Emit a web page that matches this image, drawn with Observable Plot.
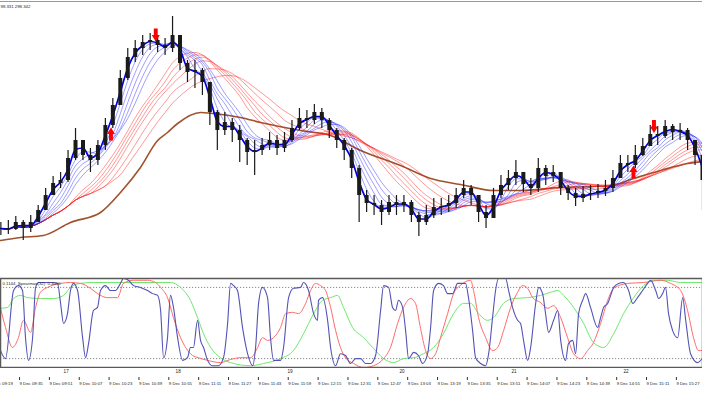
<!DOCTYPE html>
<html><head><meta charset="utf-8">
<script src="https://cdn.jsdelivr.net/npm/d3@7"></script>
<script src="https://cdn.jsdelivr.net/npm/@observablehq/plot@0.6"></script>
<style>
html,body{margin:0;padding:0;background:#fff;}
#chart{position:relative;width:702px;height:395px;overflow:hidden;font-family:"Liberation Sans",Arial,sans-serif;background:#fff;}
#main{position:absolute;left:0;top:1px;width:702px;border-top:1px solid #9a9a9a;}
#osc{position:absolute;left:0;top:274px;width:702px;}
#axis{position:absolute;left:0;top:368px;width:702px;}
#chart svg{display:block;}
</style></head><body>
<div id="chart"><div id="main"></div><div id="osc"></div><div id="axis"></div></div>
<script>
// ---- time settings (minutes after 09:00) ----
const leftEdgeMin = 24.8;          // 09:24:48, left edge of the window
const rightEdgeMin = 401;          // 15:41, right edge
const barStartMin = 25;            // first 4-minute bar at 09:25
const barStepMin = 4;

// ---- price bars (4-minute aggregation) ----
const closes = [297.72,297.71,297.78,297.72,297.78,297.90,298.05,298.17,298.20,298.42,
 298.60,298.45,298.40,298.55,298.75,298.95,299.22,299.43,299.52,299.58,
 299.60,299.55,299.52,299.65,299.37,299.28,299.30,299.18,298.88,298.70,
 298.78,298.70,298.60,298.48,298.50,298.55,298.60,298.52,298.60,298.72,
 298.82,298.80,298.88,298.80,298.70,298.60,298.50,298.32,298.05,297.97,
 297.95,297.88,297.98,297.95,297.98,297.85,297.78,297.85,297.93,297.94,
 297.97,298.05,298.12,298.05,297.88,297.82,298.05,298.15,298.22,298.28,
 298.16,298.12,298.32,298.24,298.28,298.12,298.07,298.02,298.06,298.07,
 298.09,298.12,298.22,298.37,298.35,298.45,298.54,298.66,298.64,298.74,
 298.68,298.70,298.60,298.45,298.20];
const highs = [297.78,297.80,297.84,297.80,297.85,297.95,298.12,298.24,298.28,298.50,
 298.72,298.60,298.52,298.60,298.82,299.02,299.30,299.52,299.60,299.65,
 299.67,299.64,299.62,299.84,299.65,299.40,299.40,299.32,299.18,298.90,
 298.88,298.82,298.75,298.62,298.60,298.62,298.68,298.65,298.68,298.80,
 298.92,298.90,298.96,298.92,298.82,298.72,298.62,298.52,298.35,298.10,
 298.05,298.00,298.05,298.05,298.05,298.00,297.88,297.95,298.02,298.02,
 298.05,298.12,298.20,298.15,298.05,297.95,298.12,298.25,298.30,298.40,
 298.28,298.22,298.42,298.35,298.35,298.28,298.15,298.12,298.14,298.15,
 298.16,298.20,298.30,298.45,298.45,298.55,298.62,298.75,298.74,298.80,
 298.76,298.77,298.72,298.58,298.45];
const lows = [297.65,297.66,297.70,297.60,297.68,297.80,297.92,298.05,298.12,298.18,
 298.40,298.40,298.28,298.35,298.50,298.72,298.95,299.20,299.38,299.45,
 299.50,299.48,299.45,299.48,299.30,299.18,299.12,299.05,298.75,298.50,
 298.65,298.58,298.38,298.35,298.25,298.45,298.50,298.45,298.48,298.58,
 298.70,298.72,298.76,298.72,298.62,298.52,298.40,298.22,297.78,297.88,
 297.85,297.75,297.85,297.85,297.88,297.78,297.64,297.75,297.82,297.85,
 297.88,297.92,298.02,297.95,297.78,297.72,297.85,298.02,298.10,298.15,
 298.08,298.05,298.08,298.15,298.18,298.05,298.00,297.94,297.98,298.00,
 298.02,298.04,298.08,298.22,298.28,298.32,298.44,298.55,298.55,298.62,
 298.60,298.60,298.50,298.35,297.90];

// ---- moving average periods (in bars) ----
const fastK = 2;
const blueK = [3, 4, 5, 6, 7];
const redK = [10, 11, 12, 13, 15, 17];

// ---- long moving average (brown): minutes after left edge, price ----
const brownMin = [0,10.7,23,37.5,53.6,64.3,75,84.2,89.5,94.9,107.2,114.2,128.6,139.4,160.8,176.9,193,214.4,230.5,246.6,264.2,278.7,300.2,317.8,327,339.3,353.8,368.2,376.3];
const brownVal = [297.60,297.63,297.65,297.78,297.88,298.08,298.33,298.60,298.68,298.77,298.88,298.87,298.83,298.78,298.70,298.65,298.50,298.35,298.22,298.16,298.10,298.10,298.13,298.14,298.15,298.22,298.30,298.37,298.39];

// ---- signal arrows ----
const arrowTimes = ["10:48", "10:24", "15:15", "15:04"];
const arrowPrices = [299.655, 298.665, 298.74, 298.285];
const arrowDirs = ["down", "up", "down", "up"];

// ---- oscillator (Spearman) series: [minutes after left edge, value] ----
const oscBlue = [[0,-0.62],[2.7,-0.80],[7.0,0.73],[9.6,0.84],[11.8,0.73],[13.4,-0.33],[15.0,-0.84],[17.2,-0.33],[18.8,0.80],[20.4,0.91],[27.9,0.91],[30.6,0.89],[32.2,0.44],[33.8,-0.01],[35.9,0.21],[37.5,0.73],[39.1,0.89],[41.3,0.73],[44.0,-0.33],[45.6,-0.78],[47.2,-0.46],[49.8,0.28],[52.0,0.35],[53.6,0.73],[56.3,0.84],[59.0,0.73],[61.6,0.73],[64.3,0.89],[65.9,1.00],[68.6,0.96],[71.3,0.84],[75.0,0.80],[78.8,0.73],[81.5,0.66],[84.2,0.62],[85.8,0.28],[87.4,-0.78],[89.5,-0.33],[91.1,0.62],[92.7,0.35],[94.9,-0.33],[97.6,-0.84],[100.2,-0.78],[101.8,-0.55],[103.4,-0.55],[105.6,0.06],[107.2,-0.39],[108.8,-0.55],[111.0,-0.84],[113.6,-0.96],[116.8,-0.96],[119.5,-0.78],[121.7,-0.01],[123.3,0.89],[124.9,0.84],[127.0,0.73],[129.7,-0.10],[132.4,-0.69],[135.1,-0.96],[136.7,-0.55],[138.3,0.44],[140.4,0.80],[143.1,0.57],[144.7,-0.33],[146.3,-0.84],[150.1,-0.84],[151.7,-0.55],[154.4,0.57],[157.0,0.78],[160.8,0.80],[162.4,0.91],[165.1,0.73],[167.8,0.21],[169.9,0.06],[170.4,0.51],[172.6,0.57],[175.3,0.06],[176.9,-0.55],[179.6,-0.96],[182.2,-0.69],[184.9,-0.73],[187.6,-0.91],[190.3,-0.80],[193.0,-0.80],[195.6,-0.91],[198.3,-0.91],[201.0,-0.73],[203.7,0.28],[205.3,0.84],[208.0,0.80],[210.1,0.35],[211.7,0.28],[213.3,0.51],[215.5,0.35],[217.1,-0.17],[218.7,-0.80],[221.4,-0.66],[224.0,-0.73],[226.2,-0.91],[228.9,-0.69],[230.5,-0.10],[232.1,0.73],[234.8,0.89],[237.4,0.84],[239.6,0.66],[242.3,0.66],[245.0,0.89],[247.6,0.89],[249.2,0.89],[250.8,0.57],[253.0,-0.17],[254.6,-0.78],[257.3,-0.91],[260.0,-0.96],[261.6,-0.69],[263.7,0.12],[265.3,0.73],[266.9,1.00],[270.7,1.00],[272.3,0.73],[274.4,0.35],[277.1,0.06],[278.7,-0.01],[280.3,-0.39],[282.5,-0.84],[284.1,-0.55],[286.8,0.44],[288.4,0.80],[290.5,0.66],[292.1,0.21],[293.7,-0.21],[296.4,0.06],[298.6,0.28],[300.2,-0.39],[302.8,-0.84],[304.4,-0.46],[306.6,-0.39],[308.2,-0.69],[309.8,0.21],[312.0,0.51],[313.6,0.66],[316.2,0.35],[320.0,-0.10],[321.6,0.12],[323.2,0.35],[325.4,0.44],[328.6,0.80],[331.2,0.89],[333.9,0.91],[336.6,0.73],[338.8,0.44],[341.4,0.57],[344.1,0.73],[346.8,0.89],[348.4,0.96],[351.1,0.73],[352.7,0.55],[354.8,0.66],[356.4,0.80],[358.0,0.21],[360.2,-0.17],[362.9,-0.33],[365.6,0.57],[367.2,0.06],[369.8,-0.69],[373.6,-0.89],[376.3,-0.78]];
const oscRed = [[0,0.33],[2.7,-0.10],[6.4,-0.55],[9.6,-0.33],[12.3,0.06],[16.1,-0.21],[18.8,0.35],[21.4,0.69],[25.2,0.80],[32.2,0.89],[37.5,0.91],[42.9,0.89],[48.2,0.78],[52.0,0.66],[57.4,0.57],[62.7,0.57],[65.9,0.89],[71.3,0.96],[78.8,0.96],[83.1,0.91],[85.8,0.80],[89.5,0.57],[92.7,0.12],[96.5,-0.33],[99.2,-0.55],[102.9,-0.73],[106.1,-0.78],[111.0,-0.84],[117.9,-0.89],[123.3,-0.82],[128.6,-0.78],[134.0,-0.78],[137.8,-0.55],[140.4,-0.33],[143.1,-0.39],[146.3,-0.33],[150.1,-0.10],[152.8,0.21],[156.5,0.24],[159.7,0.21],[163.5,0.44],[166.2,0.73],[168.8,0.89],[171.5,0.84],[174.2,0.73],[176.9,0.35],[179.6,-0.17],[182.2,-0.55],[184.9,-0.78],[189.2,-0.91],[194.6,-1.00],[199.9,-0.96],[205.3,-0.80],[209.0,-0.55],[212.8,-0.01],[216.0,0.35],[219.8,0.55],[222.4,0.44],[225.1,-0.12],[227.8,-0.62],[230.5,-0.80],[233.2,-0.69],[235.8,-0.33],[239.6,0.21],[242.8,0.66],[246.6,0.85],[251.9,0.96],[253.5,0.73],[256.2,0.12],[260.0,-0.33],[263.7,-0.62],[266.4,-0.55],[269.6,-0.17],[273.4,0.35],[277.1,0.69],[279.8,0.84],[282.5,0.78],[285.2,0.57],[289.4,0.46],[293.2,0.33],[296.4,0.39],[300.2,0.12],[303.9,-0.33],[307.1,-0.69],[310.9,-0.80],[314.6,-0.62],[317.8,-0.44],[321.6,-0.01],[325.4,0.51],[328.6,0.78],[336.1,0.89],[344.6,0.91],[353.8,0.96],[359.1,0.89],[364.5,0.73],[368.2,0.28],[371.4,-0.33],[374.1,-0.62],[376.3,-0.62]];
const oscGreen = [[0,0.33],[3.8,0.35],[7.0,0.55],[10.7,0.62],[14.5,0.57],[21.4,0.55],[28.4,0.55],[33.8,0.62],[37.5,0.80],[42.9,0.89],[49.8,0.91],[91.1,0.91],[96.5,0.80],[101.8,0.51],[105.6,0.12],[108.8,-0.24],[112.6,-0.55],[117.9,-0.78],[123.3,-0.89],[134.0,-0.96],[141.0,-0.91],[150.1,-0.80],[157.0,-0.62],[162.4,-0.24],[167.8,0.21],[172.6,0.51],[176.9,0.57],[180.6,0.62],[183.8,0.35],[188.7,-0.10],[194.6,-0.33],[199.9,-0.57],[205.3,-0.80],[210.6,-0.89],[216.0,-0.80],[221.4,-0.78],[226.7,-0.69],[232.1,-0.55],[237.4,-0.24],[242.8,0.21],[248.2,0.44],[251.9,0.44],[256.2,0.21],[261.0,0.06],[264.2,0.12],[269.6,0.44],[275.0,0.55],[282.5,0.57],[289.4,0.62],[294.8,0.69],[298.6,0.73],[301.8,0.62],[307.1,0.35],[312.5,-0.01],[317.8,-0.44],[323.2,-0.55],[328.6,-0.24],[333.9,0.21],[339.3,0.57],[344.6,0.84],[350.0,0.96],[357.5,0.96],[364.5,0.91],[376.3,0.91]];
const oscLevels = [0.8, -0.8];

// ---- texts ----
const priceLabel = "98.331 298.342";
const oscLabel = "0.1144  Spearman(32)  0.4050";
const timeTicks = ["09:19","09:35","09:51","10:07","10:23","10:39","10:55","11:11","11:27","11:43","11:59","12:15","12:31","12:47","13:03","13:19","13:35","13:51","14:07","14:23","14:39","14:55","15:11","15:27"];
const hourTimes = ["10:00","11:00","12:00","13:00","14:00","15:00"];
const hourLabels = ["17","18","19","20","21","22"];
const dayLabel = "9 Dec";

// ---- helpers ----
const hm = s => { const [h, m] = s.split(":").map(Number); return (h - 9) * 60 + m; };
const fmt = m => { const h = 9 + Math.floor(m / 60), mm = Math.round(m % 60); return `${dayLabel} ${String(h).padStart(2,"0")}:${String(mm).padStart(2,"0")}`; };
const xDomain = [leftEdgeMin, rightEdgeMin];
const FONT = "Liberation Sans, Arial, sans-serif";

const bars = closes.map((c, i) => ({
  t: barStartMin + barStepMin * i,
  open: i ? closes[i - 1] : c, close: c, high: highs[i], low: lows[i]
}));
const brown = brownMin.map((m, i) => ({t: leftEdgeMin + m, v: brownVal[i]}));
const arrows = arrowTimes.map((s, i) => ({t: hm(s), p: arrowPrices[i], dir: arrowDirs[i]}));
const toOsc = arr => arr.map(([m, v]) => ({t: leftEdgeMin + m, v}));

// block arrow symbols
const arrowDown = {draw(ctx, size) {
  const r = Math.sqrt(size / Math.PI), w = r * 0.3, h = r * 0.62;
  ctx.moveTo(-w, -r); ctx.lineTo(w, -r); ctx.lineTo(w, 0); ctx.lineTo(h, 0);
  ctx.lineTo(0, r); ctx.lineTo(-h, 0); ctx.lineTo(-w, 0); ctx.closePath();
}};
const arrowUp = {draw(ctx, size) {
  const r = Math.sqrt(size / Math.PI), w = r * 0.3, h = r * 0.62;
  ctx.moveTo(-w, r); ctx.lineTo(w, r); ctx.lineTo(w, 0); ctx.lineTo(h, 0);
  ctx.lineTo(0, -r); ctx.lineTo(-h, 0); ctx.lineTo(-w, 0); ctx.closePath();
}};

const maLine = (k, stroke, width, opacity) => Plot.lineY(bars,
  Plot.windowY({k, anchor: "end", reduce: "mean"}, {x: "t", y: "close", stroke, strokeWidth: width, strokeOpacity: opacity, curve: "monotone-x"}));

// ---- main price panel ----
const main = Plot.plot({
  width: 702, height: 272, margin: 0,
  style: {fontFamily: FONT, background: "transparent"},
  x: {domain: xDomain, axis: null},
  y: {domain: [297.26, 299.98], axis: null},
  marks: [
    Plot.line(brown, {x: "t", y: "v", stroke: "#a0522d", strokeWidth: 1.6, curve: "monotone-x"}),
    ...redK.map(k => maLine(k, "#ff1a1a", 1, 0.45)),
    ...blueK.map(k => maLine(k, "#1a1aff", 1, 0.42)),
    maLine(fastK, "#0000e0", 1.7, 1),
    Plot.ruleX(bars, {x: "t", y1: "low", y2: "high", stroke: "#1a1a1a", strokeWidth: 1.2}),
    Plot.ruleX(bars, {x: "t", y1: "open", y2: "close", stroke: "#1a1a1a", strokeWidth: 4}),
    Plot.dot(arrows.filter(d => d.dir === "down"), {x: "t", y: "p", r: 6.5, symbol: arrowDown, fill: "#ff0000"}),
    Plot.dot(arrows.filter(d => d.dir === "up"), {x: "t", y: "p", r: 6.5, symbol: arrowUp, fill: "#ff0000"}),
    Plot.text([priceLabel], {frameAnchor: "top-left", text: d => d, dy: 2, dx: 0, lineAnchor: "top", textAnchor: "start", fontSize: 4.3, fill: "#222"})
  ]
});
document.getElementById("main").appendChild(main);

// ---- oscillator panel ----
const osc = Plot.plot({
  width: 702, height: 94, marginTop: 4, marginBottom: 1, marginLeft: 0, marginRight: 0,
  style: {fontFamily: FONT, background: "transparent"},
  x: {domain: xDomain, axis: null},
  y: {domain: [-1, 1], axis: null},
  marks: [
    Plot.ruleY(oscLevels, {stroke: "#8a8a8a", strokeDasharray: "1.2,1.8", strokeWidth: 1}),
    Plot.line(toOsc(oscGreen), {x: "t", y: "v", stroke: "#6ee86e", strokeWidth: 1, curve: "monotone-x"}),
    Plot.line(toOsc(oscRed), {x: "t", y: "v", stroke: "#ff6b6b", strokeWidth: 1, curve: "monotone-x"}),
    Plot.line(toOsc(oscBlue), {x: "t", y: "v", stroke: "#5353b5", strokeWidth: 1.1, curve: "monotone-x"}),
    Plot.frame({stroke: "#5a5a5a", strokeWidth: 1.5}),
    Plot.text([oscLabel], {frameAnchor: "top-left", text: d => d, dx: 2, dy: 3, lineAnchor: "top", textAnchor: "start", fontSize: 4.3, fill: "#222"})
  ]
});
document.getElementById("osc").appendChild(osc);

// ---- time axis ----
const axis = Plot.plot({
  width: 702, height: 27, marginTop: 0, marginBottom: 18, marginLeft: 0, marginRight: 0,
  style: {fontFamily: FONT, background: "transparent"},
  x: {domain: xDomain, axis: null},
  marks: [
    Plot.axisX(timeTicks.map(hm), {anchor: "bottom", tickSize: 3, tickPadding: 1, tickFormat: fmt, textAnchor: "start", fontSize: 4.3, label: null, stroke: "#333", fill: "#222"}),
    Plot.text(hourTimes.map((s, i) => ({t: hm(s), label: hourLabels[i]})), {x: "t", text: "label", frameAnchor: "top", dy: 3.5, lineAnchor: "middle", fontSize: 4.6, fill: "#222"})
  ]
});
document.getElementById("axis").appendChild(axis);
</script>
</body></html>
